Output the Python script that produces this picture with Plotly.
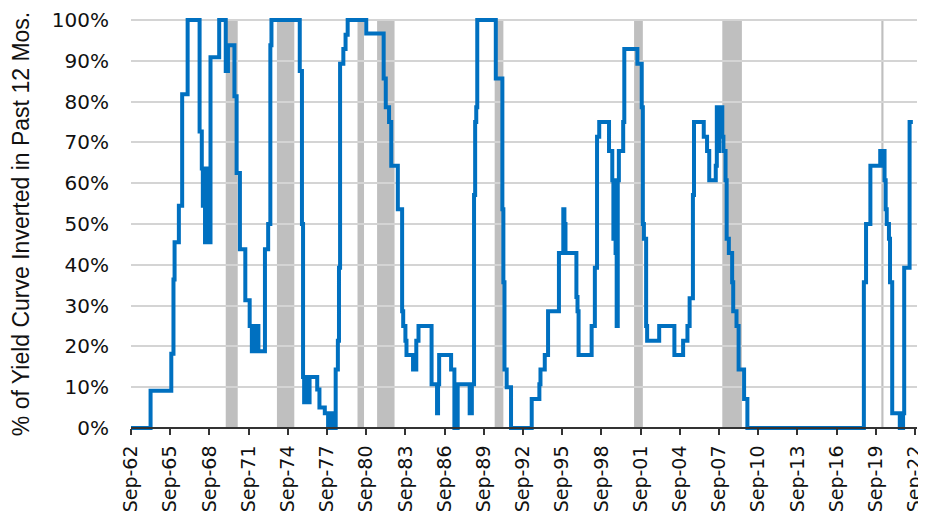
import plotly.graph_objects as go

# Step-change points (month, % of yield curve inverted in past 12 months)
change_months = [
    "1962-09", "1964-03", "1965-10", "1965-12", "1966-01", "1966-05", "1966-08", "1967-01",
    "1967-12", "1968-02", "1968-03", "1968-04", "1968-05", "1968-06", "1968-07", "1968-08",
    "1968-09", "1968-10", "1969-06", "1969-12", "1970-02", "1970-08", "1970-10", "1971-01",
    "1971-06", "1971-10", "1971-12", "1972-01", "1972-04", "1972-05", "1972-06", "1972-12",
    "1973-03", "1973-05", "1973-06", "1975-08", "1975-10", "1975-11", "1975-12", "1976-01",
    "1976-02", "1976-03", "1976-04", "1976-05", "1976-12", "1977-02", "1977-07", "1977-10",
    "1977-11", "1977-12", "1978-01", "1978-02", "1978-03", "1978-04", "1978-05", "1978-07",
    "1978-08", "1978-09", "1978-12", "1979-02", "1979-04", "1980-09", "1982-01", "1982-03",
    "1982-06", "1982-08", "1983-02", "1983-06", "1983-07", "1983-09", "1983-10", "1984-04",
    "1984-07", "1984-09", "1985-09", "1986-02", "1986-03", "1986-04", "1987-03", "1987-06",
    "1987-07", "1987-08", "1987-09", "1988-08", "1988-10", "1988-12", "1989-01", "1989-02",
    "1989-03", "1990-08", "1991-02", "1991-03", "1991-04", "1991-06", "1991-10", "1993-05",
    "1993-12", "1994-01", "1994-05", "1994-08", "1995-06", "1995-10", "1995-11", "1995-12",
    "1996-10", "1996-11", "1996-12", "1997-12", "1998-03", "1998-05", "1998-07", "1999-04",
    "1999-07", "1999-08", "1999-09", "1999-10", "1999-11", "1999-12", "2000-01", "2000-05",
    "2000-06", "2001-06", "2001-10", "2001-11", "2001-12", "2002-02", "2002-03", "2003-02",
    "2004-04", "2004-12", "2005-04", "2005-06", "2005-09", "2005-10", "2006-07", "2006-10",
    "2006-12", "2007-06", "2007-07", "2007-08", "2007-09", "2007-12", "2008-01", "2008-03",
    "2008-04", "2008-06", "2008-09", "2008-10", "2009-01", "2009-03", "2009-08", "2009-11",
    "2018-10", "2018-12", "2019-04", "2020-01", "2020-02", "2020-03", "2020-05", "2020-06",
    "2020-07", "2020-09", "2020-10", "2020-12", "2021-07", "2021-10", "2021-11", "2022-04",
    "2022-07",
]
pct_inverted = [
    0, 9.1, 18.2, 36.4, 45.5, 54.5, 81.8, 100,
    72.7, 63.6, 54.5, 63.6, 45.5, 63.6, 45.5, 54.5,
    45.5, 90.9, 100, 87.5, 93.8, 81.3, 62.5, 43.8,
    31.3, 25, 18.8, 25, 18.8, 25, 18.8, 43.8,
    50, 93.8, 100, 87.5, 50, 12.5, 6.3, 12.5,
    6.3, 12.5, 6.3, 12.5, 9.4, 5, 3.6, 0,
    3.6, 0, 3.6, 0, 3.6, 0, 14.3, 21.4,
    39.3, 89.3, 92.9, 96.4, 100, 96.7, 85.7, 78.6,
    75, 64.3, 53.6, 28.6, 25, 21.4, 17.9, 14.3,
    21.4, 25, 10.7, 3.6, 10.7, 17.9, 14.3, 0,
    7.1, 0, 10.7, 3.6, 10.7, 57.1, 75, 78.6,
    100, 85.7, 53.6, 35.7, 14.3, 10, 0, 7.1,
    10.7, 14.3, 17.9, 28.6, 42.9, 53.6, 50, 42.9,
    32.1, 28.6, 17.9, 25, 39.3, 71.4, 75, 67.9,
    60.7, 46.4, 60.7, 42.9, 25, 60.7, 67.9, 75,
    92.9, 89.3, 78.6, 50, 46.4, 25, 21.4, 25,
    17.9, 21.4, 25, 31.8, 57.1, 75, 71.4, 67.9,
    60.7, 64.3, 78.6, 67.9, 78.6, 71.4, 67.9, 60.7,
    46.4, 42.9, 35.7, 28.6, 25, 14.3, 7.1, 0,
    35.7, 50, 64.3, 67.9, 64.3, 67.9, 60.7, 53.6,
    50, 46.4, 35.7, 3.6, 0, 3.6, 39.3, 75,
    75,
]

# NBER recessions (shaded)
recession_starts = ["1969-12", "1973-11", "1980-01", "1981-07", "1990-07", "2001-03", "2007-12", "2020-02"]
recession_ends = ["1970-11", "1975-03", "1980-07", "1982-11", "1991-03", "2001-11", "2009-06", "2020-04"]

# X tick labels
tick_years = list(range(1962, 2023, 3))
tick_labels = ["Sep-%02d" % (y % 100) for y in tick_years]
y_ticks = list(range(0, 101, 10))

FONT = "Liberation Sans, Arial, Helvetica, sans-serif"
TICK_FONT = "DejaVu Sans, Liberation Sans, sans-serif"

fig = go.Figure()
fig.add_trace(go.Scatter(
    x=[m + "-01" for m in change_months],
    y=pct_inverted,
    mode="lines",
    line=dict(color="#0070C0", width=4, shape="hv"),
    showlegend=False,
))

for s, e in zip(recession_starts, recession_ends):
    fig.add_shape(type="rect", xref="x", yref="y", x0=s + "-01", x1=e + "-01",
                  y0=0, y1=100, fillcolor="#BFBFBF", line=dict(width=0), layer="below")

# the page places the figure 8px from the top-left corner
W, H = 918, 511
M_L, M_R, M_T, M_B = 123, 9, 8, 87
plot_h = H - M_T - M_B
fig.update_layout(
    width=W, height=H,
    margin=dict(l=M_L, r=M_R, t=M_T, b=M_B),
    paper_bgcolor="white", plot_bgcolor="white",
    font=dict(family=FONT, size=22, color="#111111"),
    xaxis=dict(
        range=["1962-09-01", "2022-10-25"],
        tickvals=["%d-09-01" % y for y in tick_years],
        ticktext=tick_labels,
        tickangle=-90,
        ticks="outside", ticklen=6, tickwidth=1.5, tickcolor="#333333",
        showline=True, linecolor="#333333", linewidth=2,
        showgrid=False, zeroline=False,
        anchor="free", position=4.08 / plot_h,
        tickfont=dict(family=TICK_FONT, size=19),
        ticklabelstandoff=3,
        ticklabeloverflow="allow",
        automargin=False,
    ),
    yaxis=dict(
        range=[-1, 101],
        tickvals=y_ticks,
        ticktext=["%d%%" % v for v in y_ticks],
        showgrid=True, gridcolor="#D4D4D4", gridwidth=1.5,
        zeroline=False, showline=False, ticks="",
        tickfont=dict(family=TICK_FONT, size=20),
        ticklabelstandoff=21,
        ticklabeloverflow="allow",
        automargin=False,
        title=dict(text="% of Yield Curve Inverted in Past 12 Mos.", font=dict(size=23), standoff=27),
    ),
)

fig.write_html("out.html")
